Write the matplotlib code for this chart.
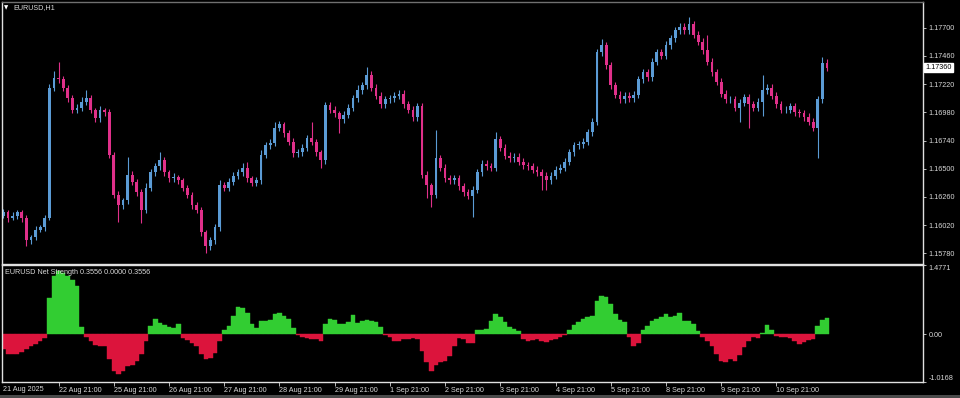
import numpy as np
import matplotlib
matplotlib.use('Agg')
import matplotlib.pyplot as plt
from matplotlib.transforms import blended_transform_factory

plt.rcParams['font.family'] = ['Liberation Sans', 'DejaVu Sans']

# EURUSD, sampled every 2 hours from the H1 chart (21 Aug 21:00 .. 11 Sep)
first_open = 1.1610
closes = [
    1.1613, 1.1608, 1.1610, 1.1613, 1.1608, 1.1589, 1.1592, 1.1598, 1.1600, 1.1608,
    1.1719, 1.1727, 1.1726, 1.1719, 1.1710, 1.1700, 1.1702, 1.1707, 1.1710, 1.1700,
    1.1693, 1.1700, 1.1698, 1.1662, 1.1628, 1.1619, 1.1623, 1.1645, 1.1639, 1.1630,
    1.1615, 1.1634, 1.1647, 1.1652, 1.1657, 1.1647, 1.1642, 1.1643, 1.1640, 1.1634,
    1.1628, 1.1619, 1.1615, 1.1596, 1.1584, 1.1589, 1.1600, 1.1636, 1.1634, 1.1639,
    1.1644, 1.1647, 1.1651, 1.1642, 1.1638, 1.1640, 1.1662, 1.1670, 1.1672, 1.1685,
    1.1688, 1.1680, 1.1673, 1.1663, 1.1664, 1.1668, 1.1676, 1.1673, 1.1664, 1.1657,
    1.1704, 1.1700, 1.1697, 1.1692, 1.1696, 1.1702, 1.1710, 1.1717, 1.1721, 1.1730,
    1.1719, 1.1712, 1.1705, 1.1709, 1.1710, 1.1712, 1.1714, 1.1705, 1.1700, 1.1694,
    1.1703, 1.1645, 1.1636, 1.1628, 1.1659, 1.1651, 1.1642, 1.1640, 1.1642, 1.1635,
    1.1630, 1.1627, 1.1632, 1.1647, 1.1654, 1.1652, 1.1651, 1.1675, 1.1668, 1.1661,
    1.1659, 1.1660, 1.1656, 1.1653, 1.1652, 1.1649, 1.1647, 1.1644, 1.1640, 1.1644,
    1.1649, 1.1651, 1.1656, 1.1664, 1.1670, 1.1671, 1.1673, 1.1681, 1.1690, 1.1749,
    1.1755, 1.1738, 1.1721, 1.1713, 1.1709, 1.1712, 1.1710, 1.1713, 1.1726, 1.1732,
    1.1728, 1.1741, 1.1749, 1.1746, 1.1755, 1.1761, 1.1768, 1.1771, 1.1768, 1.1773,
    1.1764, 1.1758, 1.1751, 1.1741, 1.1732, 1.1724, 1.1714, 1.1709, 1.1709, 1.1702,
    1.1706, 1.1711, 1.1705, 1.1702, 1.1707, 1.1717, 1.1719, 1.1712, 1.1705, 1.1700,
    1.1700, 1.1703, 1.1698, 1.1697, 1.1694, 1.1690, 1.1685, 1.1709, 1.1740, 1.1736,
]
# wicks beyond the candle body, in pips
wick_up = [
    3, 2, 3, 2, 2, 3, 2, 3, 2, 3, 3, 6, 14, 3, 2, 3, 3, 4, 7, 3,
    2, 3, 2, 3, 2, 3, 2, 15, 3, 2, 3, 4, 3, 3, 7, 3, 2, 3, 2, 2,
    2, 2, 3, 2, 2, 3, 3, 4, 3, 3, 3, 3, 4, 5, 2, 3, 4, 3, 3, 5,
    3, 2, 3, 3, 3, 3, 3, 14, 2, 2, 3, 3, 3, 2, 3, 3, 3, 4, 3, 7,
    3, 3, 3, 3, 3, 3, 3, 3, 3, 3, 3, 3, 3, 2, 24, 3, 3, 3, 3, 3,
    3, 3, 3, 3, 3, 3, 3, 6, 3, 3, 3, 3, 3, 3, 3, 3, 3, 3, 3, 3,
    3, 3, 3, 3, 3, 3, 3, 3, 3, 3, 5, 3, 3, 3, 3, 3, 3, 3, 3, 3,
    3, 3, 3, 3, 4, 3, 3, 3, 3, 6, 3, 3, 3, 13, 3, 3, 3, 3, 3, 3,
    3, 3, 3, 3, 3, 13, 3, 3, 3, 3, 3, 3, 3, 3, 3, 3, 3, 3, 5, 3,
]
wick_dn = [
    2, 3, 2, 3, 3, 5, 3, 3, 2, 3, 2, 3, 3, 3, 3, 3, 3, 3, 3, 3,
    3, 3, 3, 3, 3, 14, 3, 3, 3, 3, 11, 3, 3, 3, 3, 3, 3, 3, 3, 3,
    3, 3, 3, 3, 6, 3, 3, 3, 3, 3, 3, 3, 3, 3, 3, 3, 3, 3, 3, 3,
    3, 3, 3, 3, 3, 3, 3, 3, 3, 6, 3, 3, 3, 12, 3, 3, 3, 3, 3, 3,
    3, 3, 3, 3, 3, 3, 3, 3, 3, 3, 3, 3, 11, 11, 3, 3, 3, 3, 3, 3,
    3, 3, 18, 3, 3, 3, 3, 3, 3, 3, 3, 3, 3, 3, 3, 3, 3, 12, 8, 3,
    3, 3, 3, 3, 3, 3, 3, 3, 3, 3, 3, 3, 3, 3, 3, 3, 3, 3, 3, 3,
    3, 3, 3, 3, 3, 3, 3, 3, 3, 3, 3, 3, 3, 3, 3, 3, 3, 3, 3, 3,
    12, 3, 20, 3, 3, 12, 3, 3, 3, 3, 3, 3, 3, 3, 3, 3, 3, 26, 3, 3,
]
net_strength = [
    -0.32, -0.41, -0.43, -0.41, -0.37, -0.31, -0.26, -0.21, -0.14, -0.08,
    0.78, 1.24, 1.35, 1.31, 1.24, 1.16, 1.04, 0.15, -0.05, -0.14,
    -0.23, -0.26, -0.26, -0.53, -0.78, -0.85, -0.78, -0.68, -0.66, -0.57,
    -0.43, -0.14, 0.18, 0.32, 0.25, 0.19, 0.16, 0.14, 0.21, -0.07,
    -0.12, -0.18, -0.25, -0.41, -0.53, -0.50, -0.39, -0.14, 0.09, 0.18,
    0.39, 0.59, 0.57, 0.46, 0.21, 0.14, 0.28, 0.28, 0.31, 0.43,
    0.45, 0.39, 0.32, 0.14, -0.02, -0.06, -0.07, -0.09, -0.11, -0.14,
    0.21, 0.33, 0.31, 0.23, 0.21, 0.26, 0.41, 0.25, 0.28, 0.31,
    0.28, 0.26, 0.16, -0.02, -0.05, -0.14, -0.14, -0.11, -0.09, -0.08,
    -0.09, -0.36, -0.60, -0.78, -0.66, -0.60, -0.57, -0.46, -0.25, -0.07,
    -0.09, -0.19, -0.18, 0.09, 0.09, 0.12, 0.28, 0.43, 0.36, 0.26,
    0.16, 0.12, 0.07, -0.09, -0.14, -0.12, -0.11, -0.14, -0.16, -0.12,
    -0.09, -0.05, -0.02, 0.09, 0.19, 0.26, 0.32, 0.36, 0.39, 0.71,
    0.82, 0.80, 0.64, 0.43, 0.31, 0.26, -0.05, -0.26, -0.18, 0.09,
    0.18, 0.28, 0.33, 0.36, 0.43, 0.36, 0.39, 0.46, 0.28, 0.28,
    0.21, 0.07, -0.05, -0.14, -0.26, -0.41, -0.57, -0.60, -0.53, -0.57,
    -0.45, -0.28, -0.14, -0.05, -0.07, 0.03, 0.19, 0.09, -0.04, -0.05,
    -0.05, -0.07, -0.14, -0.21, -0.16, -0.12, -0.09, 0.18, 0.31, 0.3556,
]

first_label = '21 Aug 2025'
date_labels = ['22 Aug 21:00', '25 Aug 21:00', '26 Aug 21:00', '27 Aug 21:00',
               '28 Aug 21:00', '29 Aug 21:00', '1 Sep 21:00', '2 Sep 21:00',
               '3 Sep 21:00', '4 Sep 21:00', '5 Sep 21:00', '8 Sep 21:00',
               '9 Sep 21:00', '10 Sep 21:00']
bars_per_day = 12
price_ticks = [1.17700, 1.17460, 1.17220, 1.16980, 1.16740,
               1.16500, 1.16260, 1.16020, 1.15780]
last_price = 1.17360
ind_max, ind_min = 1.4771, -1.0168

UP = '#5b9bd5'
DOWN = '#e0308a'
GREEN = '#32cd32'
RED = '#dc143c'
FG = '#d8d8d8'
FS = 5.2

W, H = 960, 398
fig = plt.figure(figsize=(W / 100, H / 100), dpi=100, facecolor='black')


def px_axes(x0, y0, x1, y1):
    return fig.add_axes([x0 / W, 1 - y1 / H, (x1 - x0) / W, (y1 - y0) / H])


ax1 = px_axes(2, 2, 922.7, 264)
ax2 = px_axes(2, 265, 922.7, 382)

close = np.array(closes)
open_ = np.r_[first_open, close[:-1]]
high = np.maximum(open_, close) + np.array(wick_up) * 1e-4
low = np.minimum(open_, close) - np.array(wick_dn) * 1e-4
x = np.arange(len(close))
cols = np.where(close >= open_, UP, DOWN)

ax1.vlines(x, low, high, colors=cols, lw=0.8)
ax1.bar(x, np.maximum(np.abs(close - open_), 0.00004),
        bottom=np.minimum(open_, close), width=0.6, color=cols, linewidth=0)

strength = np.array(net_strength)
hcols = np.where(strength >= 0, GREEN, RED)
ax2.bar(x, strength, width=1.0, color=hcols, edgecolor=hcols, linewidth=0.3)

xlim = (-0.3, 199.8)
for ax in (ax1, ax2):
    ax.set_facecolor('black')
    ax.set_xlim(*xlim)
    for s in ax.spines.values():
        s.set_color('#e0e0e0')
        s.set_linewidth(1.0)
    ax.yaxis.tick_right()
    ax.tick_params(axis='y', colors=FG, labelsize=FS, length=2.5, width=0.6, pad=1.5)
ax1.spines['top'].set_color('#707070')

ax1.set_ylim(1.15689, 1.17919)
ax1.set_yticks(price_ticks)
ax1.set_yticklabels([f'{p:.5f}' for p in price_ticks])
ax1.set_xticks([])

ax2.set_ylim(ind_min, ind_max)
ax2.set_yticks([ind_max, 0.0, ind_min])
ax2.set_yticklabels([f'{ind_max:.4f}', '0.00', f'{ind_min:.4f}'])
lbls = ax2.get_yticklabels()
lbls[0].set_va('top')
lbls[2].set_va('bottom')

tick_pos = [bars_per_day * (k + 1) for k in range(len(date_labels))]
ax2.set_xticks(tick_pos)
ax2.set_xticklabels(date_labels, ha='left')
ax2.tick_params(axis='x', colors=FG, labelsize=FS, length=3, width=0.6, pad=0.3)
ax2.text(0, -0.03, first_label, transform=blended_transform_factory(ax2.transData, ax2.transAxes),
         color=FG, fontsize=FS, ha='left', va='top')

# current price label
ax1.text(1.003, last_price, f'{last_price:.5f}',
         transform=blended_transform_factory(ax1.transAxes, ax1.transData),
         color='black', fontsize=FS, ha='left', va='center',
         bbox=dict(boxstyle='square,pad=0.15', fc='white', ec='white'))

fig.text(4 / W, 1 - 7.5 / H, '\u25bc', color='white', fontsize=4, va='center', ha='left',
         family=['DejaVu Sans'])
fig.text(13 / W, 1 - 7.5 / H, 'EURUSD,H1', color=FG, fontsize=FS, va='center', ha='left')
fig.text(5 / W, 1 - 272 / H, f'EURUSD Net Strength {net_strength[-1]:.4f} 0.0000 {net_strength[-1]:.4f}',
         color=FG, fontsize=FS, va='center', ha='left')

# window frame strip along the bottom edge
fig.patches.append(plt.Rectangle((0, 0), 1, 3 / H, transform=fig.transFigure,
                                 facecolor='#4a4a4a', edgecolor='none'))

fig.savefig('out.png', dpi=100, facecolor='black')
